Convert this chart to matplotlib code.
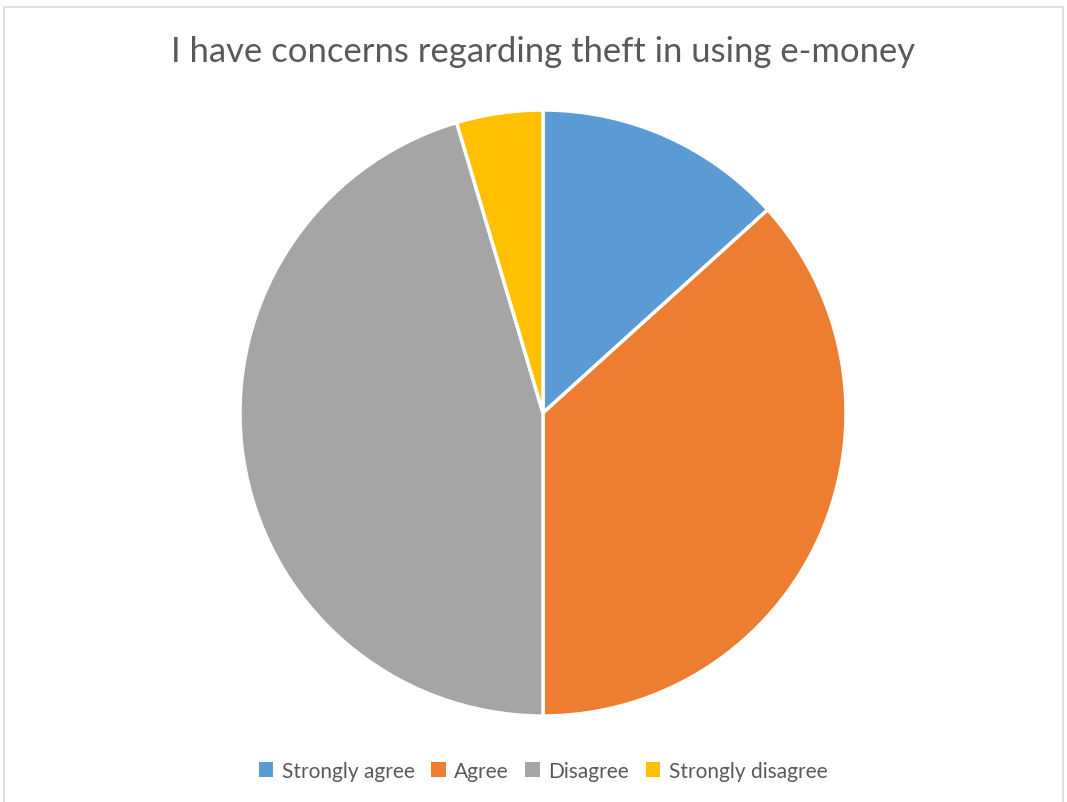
import matplotlib
matplotlib.use("Agg")
import matplotlib.pyplot as plt
from matplotlib.patches import Rectangle, Patch

labels = ["Strongly agree", "Agree", "Disagree", "Strongly disagree"]
values = [13.3, 36.7, 45.4, 4.6]  # percent shares
colors = ["#5B9BD5", "#ED7D31", "#A5A5A5", "#FFC000"]

plt.rcParams['font.family'] = ['Lato', 'DejaVu Sans']

fig = plt.figure(figsize=(10.67, 8.03), dpi=100)

# light chart border
fig.patches.append(Rectangle((4 / 1067, -0.01), 1059 / 1067, 1 - 8 / 803 + 0.01,
                             transform=fig.transFigure, fill=False,
                             edgecolor="#d9d9d9", lw=1.2))

ax = fig.add_axes([0.2249, 0.1071, 0.568, 0.7547])
ax.pie(values, colors=colors, startangle=90, counterclock=False, radius=1,
       wedgeprops=dict(edgecolor="white", linewidth=2.5))
ax.set_xlim(-1, 1)
ax.set_ylim(-1, 1)
ax.set_aspect("equal")
ax.axis("off")

fig.text(0.509, 1 - 52 / 803, "I have concerns regarding theft in using e-money",
         ha="center", va="center", fontsize=24.9, color="#595959")

handles = [Patch(facecolor=c, label=l) for c, l in zip(colors, labels)]
fig.legend(handles=handles, loc="center", bbox_to_anchor=(0.509, 1 - 772 / 803),
           ncol=4, frameon=False, fontsize=15, labelcolor="#595959",
           handlelength=0.7, handleheight=0.7, handletextpad=0.4, columnspacing=0.8)

fig.savefig("out.png", dpi=100)
